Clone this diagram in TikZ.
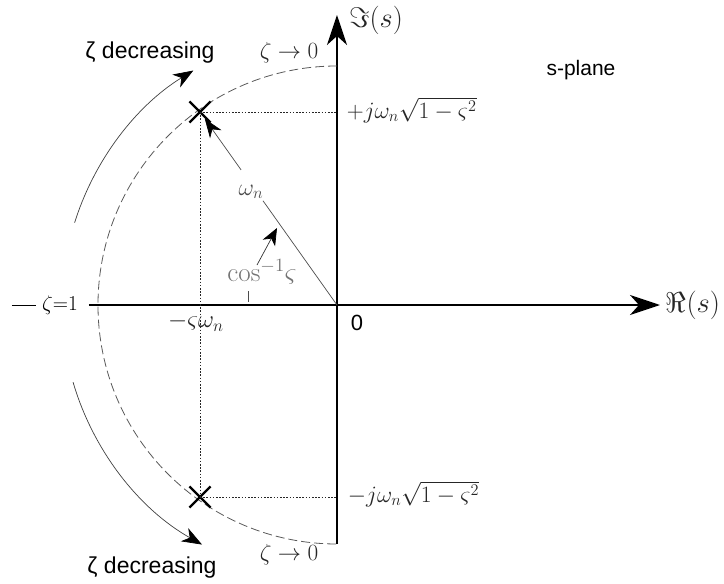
\documentclass[tikz,border=0pt]{standalone}
\usepackage{fontspec}
\newfontfamily\sansf{Liberation Sans}
\usetikzlibrary{arrows.meta,calc,shapes.misc}
\begin{document}
\begin{tikzpicture}[x=1pt,y=1pt,
  axisline/.style={line width=1.3pt,-{Stealth[length=30pt,width=20pt,inset=9pt]}},
  circ/.style={black!65,line width=0.8pt,dash pattern=on 9pt off 4pt},
  outerarc/.style={black!75,line width=0.7pt,-{Stealth[length=20pt,width=15pt,inset=6pt,fill=black,color=black]}},
  guide/.style={black!85,line width=0.8pt,dash pattern=on 1.6pt off 1.6pt},
  pole/.style={cross out,draw=black,line width=2.2pt,minimum size=19pt,inner sep=0pt},
  sanslab/.style={font=\sansf\fontsize{23}{27}\selectfont},
  mathlab/.style={font=\fontsize{20.74}{25}\selectfont,text=black!85},
  graylab/.style={font=\fontsize{20.74}{25}\selectfont,text=black!55},
  thinline/.style={black!70,line width=0.7pt}
]
\useasboundingbox (-337,-279) rectangle (387,305);
% key points
\coordinate (O) at (0,0);
\coordinate (Rl) at (-248,0);
\coordinate (Rr) at (323,0);
\coordinate (Ib) at (0,-239);
\coordinate (It) at (0,290);
\coordinate (Ct) at (0,239);
% axes
\draw[axisline] (Rl) -- (Rr);
\draw[axisline] (Ib) -- (It);
% dashed semicircle
\draw[circ] (Ct) arc[start angle=90,end angle=270,radius=239];
% outer arcs
\coordinate (A1) at (162.6:275);
\coordinate (A2) at (196.3:275);
\draw[outerarc] (A1) arc[start angle=162.6,end angle=121.5,radius=275];
\draw[outerarc] (A2) arc[start angle=196.3,end angle=240.6,radius=275];
% poles
\node[pole] (P1) at (-137,193) {};
\node[pole] (P2) at (-137,-192) {};
\coordinate (Y1) at (0,193);
\coordinate (Y2) at (0,-192);
\draw[guide] (P1.center) -- (P2.center);
\draw[guide] (P1.center) -- (Y1);
\draw[guide] (P2.center) -- (Y2);
% omega_n line
\draw[thinline] (O) -- ($(O)!0.54!(P1.center)$);
\draw[thinline,-{Stealth[length=19pt,width=14pt,inset=6pt,fill=black,color=black]}] ($(O)!0.70!(P1.center)$) -- ($(O)!0.965!(P1.center)$);
\node[graylab,scale=1.15,text=black!70] (wn) at (-86,113) {$\omega_n$};
% angle label
\node[graylab,scale=1.3] (cosl) at (-75,33) {$\cos^{-1}\!\varsigma$};
\coordinate (ct1) at (-80,40);
\coordinate (ct2) at (-60,77);
\draw[thinline,black!80,-{Stealth[length=17pt,width=14pt,inset=5pt,fill=black,color=black]}] (ct1) -- (ct2);
\coordinate (tk1) at (-89,14);
\coordinate (tk2) at (-89,3);
\draw[black!70,line width=0.6pt] (tk1) -- (tk2);
% labels
\node[mathlab,scale=1.13,anchor=west] (jp) at (6,195) {$+j\omega_n\sqrt{1-\varsigma^2}$};
\node[mathlab,scale=1.13,anchor=west] (jm) at (7,-189) {$-j\omega_n\sqrt{1-\varsigma^2}$};
\node[mathlab,scale=1.19] (sw) at (-141,-17) {$-\varsigma\omega_n$};
\node[sanslab,font=\sansf\fontsize{22}{26}\selectfont] (zero) at (20,-18) {0};
\node[mathlab,scale=1.38] (Re) at (356,0) {$\Re(s)$};
\node[mathlab,scale=1.37] (Im) at (39,285) {$\Im(s)$};
\node[mathlab,scale=1.12] (zt) at (-48,252) {$\zeta\rightarrow 0$};
\node[mathlab,scale=1.12] (zb) at (-48,-250) {$\zeta\rightarrow 0$};
\node[sanslab] (dt) at (-187,252) {ζ decreasing};
\node[sanslab] (db) at (-185,-263) {ζ decreasing};
\node[sanslab,font=\sansf\fontsize{21}{25}\selectfont] (sp) at (244,235) {s-plane};
\node[mathlab,scale=1.02,text=black,anchor=west,inner sep=0pt] (z1) at (-295,0) {${\zeta}{=}1$};
\coordinate (m1) at (-325,0);
\coordinate (m2) at (-301,0);
\draw[line width=0.9pt] (m1) -- (m2);
\end{tikzpicture}
\end{document}
